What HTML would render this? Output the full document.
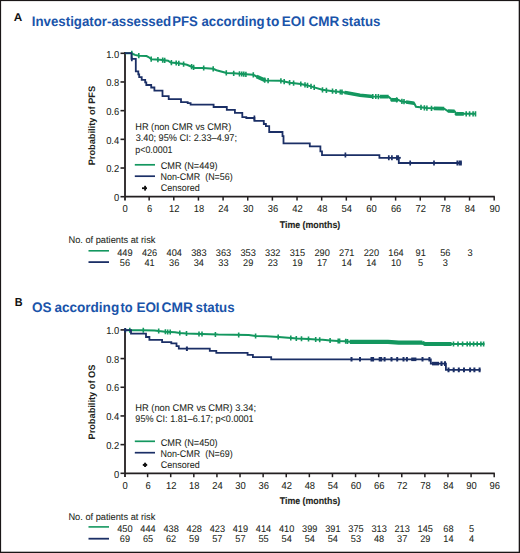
<!DOCTYPE html>
<html><head><meta charset="utf-8"><style>html,body{margin:0;padding:0;background:#fff;width:520px;height:553px;overflow:hidden}svg text{text-rendering:geometricPrecision}</style></head>
<body>
<svg width="520" height="553" viewBox="0 0 520 553" style="display:block;font-family:'Liberation Sans',sans-serif">
<rect x="0" y="0" width="520" height="553" fill="#fff"/>
<path d="M125.0,52.099999999999994 V200.5 M125.0,196.7 H494.8" fill="none" stroke="#231f20" stroke-width="1.8"/>
<path d="M120.5,196.70 H124.5" stroke="#231f20" stroke-width="1.6"/>
<text transform="translate(119.20,200.90) scale(0.9300,1)" font-size="10.1" font-weight="normal" text-anchor="end" fill="#231f20" stroke="#231f20" stroke-width="0.06" >0</text>
<path d="M120.5,168.02 H124.5" stroke="#231f20" stroke-width="1.6"/>
<text transform="translate(119.20,172.22) scale(0.9300,1)" font-size="10.1" font-weight="normal" text-anchor="end" fill="#231f20" stroke="#231f20" stroke-width="0.06" >0.2</text>
<path d="M120.5,139.34 H124.5" stroke="#231f20" stroke-width="1.6"/>
<text transform="translate(119.20,143.54) scale(0.9300,1)" font-size="10.1" font-weight="normal" text-anchor="end" fill="#231f20" stroke="#231f20" stroke-width="0.06" >0.4</text>
<path d="M120.5,110.66 H124.5" stroke="#231f20" stroke-width="1.6"/>
<text transform="translate(119.20,114.86) scale(0.9300,1)" font-size="10.1" font-weight="normal" text-anchor="end" fill="#231f20" stroke="#231f20" stroke-width="0.06" >0.6</text>
<path d="M120.5,81.98 H124.5" stroke="#231f20" stroke-width="1.6"/>
<text transform="translate(119.20,86.18) scale(0.9300,1)" font-size="10.1" font-weight="normal" text-anchor="end" fill="#231f20" stroke="#231f20" stroke-width="0.06" >0.8</text>
<path d="M120.5,53.30 H124.5" stroke="#231f20" stroke-width="1.6"/>
<text transform="translate(119.20,57.50) scale(0.9300,1)" font-size="10.1" font-weight="normal" text-anchor="end" fill="#231f20" stroke="#231f20" stroke-width="0.06" >1.0</text>
<text transform="translate(125.00,211.90) scale(0.9300,1)" font-size="10.1" font-weight="normal" text-anchor="middle" fill="#231f20" stroke="#231f20" stroke-width="0.06" >0</text>
<path d="M149.15,196.7 V200.6" stroke="#231f20" stroke-width="1.5"/>
<text transform="translate(149.65,211.90) scale(0.9300,1)" font-size="10.1" font-weight="normal" text-anchor="middle" fill="#231f20" stroke="#231f20" stroke-width="0.06" >6</text>
<path d="M173.79,196.7 V200.6" stroke="#231f20" stroke-width="1.5"/>
<text transform="translate(174.29,211.90) scale(0.9300,1)" font-size="10.1" font-weight="normal" text-anchor="middle" fill="#231f20" stroke="#231f20" stroke-width="0.06" >12</text>
<path d="M198.44,196.7 V200.6" stroke="#231f20" stroke-width="1.5"/>
<text transform="translate(198.94,211.90) scale(0.9300,1)" font-size="10.1" font-weight="normal" text-anchor="middle" fill="#231f20" stroke="#231f20" stroke-width="0.06" >18</text>
<path d="M223.09,196.7 V200.6" stroke="#231f20" stroke-width="1.5"/>
<text transform="translate(223.59,211.90) scale(0.9300,1)" font-size="10.1" font-weight="normal" text-anchor="middle" fill="#231f20" stroke="#231f20" stroke-width="0.06" >24</text>
<path d="M247.73,196.7 V200.6" stroke="#231f20" stroke-width="1.5"/>
<text transform="translate(248.23,211.90) scale(0.9300,1)" font-size="10.1" font-weight="normal" text-anchor="middle" fill="#231f20" stroke="#231f20" stroke-width="0.06" >30</text>
<path d="M272.38,196.7 V200.6" stroke="#231f20" stroke-width="1.5"/>
<text transform="translate(272.88,211.90) scale(0.9300,1)" font-size="10.1" font-weight="normal" text-anchor="middle" fill="#231f20" stroke="#231f20" stroke-width="0.06" >36</text>
<path d="M297.03,196.7 V200.6" stroke="#231f20" stroke-width="1.5"/>
<text transform="translate(297.53,211.90) scale(0.9300,1)" font-size="10.1" font-weight="normal" text-anchor="middle" fill="#231f20" stroke="#231f20" stroke-width="0.06" >42</text>
<path d="M321.67,196.7 V200.6" stroke="#231f20" stroke-width="1.5"/>
<text transform="translate(322.17,211.90) scale(0.9300,1)" font-size="10.1" font-weight="normal" text-anchor="middle" fill="#231f20" stroke="#231f20" stroke-width="0.06" >48</text>
<path d="M346.32,196.7 V200.6" stroke="#231f20" stroke-width="1.5"/>
<text transform="translate(346.82,211.90) scale(0.9300,1)" font-size="10.1" font-weight="normal" text-anchor="middle" fill="#231f20" stroke="#231f20" stroke-width="0.06" >54</text>
<path d="M370.97,196.7 V200.6" stroke="#231f20" stroke-width="1.5"/>
<text transform="translate(371.47,211.90) scale(0.9300,1)" font-size="10.1" font-weight="normal" text-anchor="middle" fill="#231f20" stroke="#231f20" stroke-width="0.06" >60</text>
<path d="M395.61,196.7 V200.6" stroke="#231f20" stroke-width="1.5"/>
<text transform="translate(396.11,211.90) scale(0.9300,1)" font-size="10.1" font-weight="normal" text-anchor="middle" fill="#231f20" stroke="#231f20" stroke-width="0.06" >66</text>
<path d="M420.26,196.7 V200.6" stroke="#231f20" stroke-width="1.5"/>
<text transform="translate(420.76,211.90) scale(0.9300,1)" font-size="10.1" font-weight="normal" text-anchor="middle" fill="#231f20" stroke="#231f20" stroke-width="0.06" >72</text>
<path d="M444.91,196.7 V200.6" stroke="#231f20" stroke-width="1.5"/>
<text transform="translate(445.41,211.90) scale(0.9300,1)" font-size="10.1" font-weight="normal" text-anchor="middle" fill="#231f20" stroke="#231f20" stroke-width="0.06" >78</text>
<path d="M469.55,196.7 V200.6" stroke="#231f20" stroke-width="1.5"/>
<text transform="translate(470.05,211.90) scale(0.9300,1)" font-size="10.1" font-weight="normal" text-anchor="middle" fill="#231f20" stroke="#231f20" stroke-width="0.06" >84</text>
<path d="M494.20,196.7 V200.6" stroke="#231f20" stroke-width="1.5"/>
<text transform="translate(494.70,211.90) scale(0.9300,1)" font-size="10.1" font-weight="normal" text-anchor="middle" fill="#231f20" stroke="#231f20" stroke-width="0.06" >90</text>
<text transform="translate(279.71,227.80) scale(0.9098,1)" font-size="9.7" font-weight="bold" text-anchor="start" fill="#231f20" stroke="#231f20" stroke-width="0.12" >Time (months)</text>
<text transform="translate(94.6,165.32) rotate(-90) scale(0.9844,1)" font-size="9.4" font-weight="bold" fill="#231f20">Probability of PFS</text>
<path d="M125.0,328.70000000000005 V477.1 M125.0,473.3 H494.8" fill="none" stroke="#231f20" stroke-width="1.8"/>
<path d="M120.5,473.30 H124.5" stroke="#231f20" stroke-width="1.6"/>
<text transform="translate(119.20,477.50) scale(0.9300,1)" font-size="10.1" font-weight="normal" text-anchor="end" fill="#231f20" stroke="#231f20" stroke-width="0.06" >0</text>
<path d="M120.5,444.62 H124.5" stroke="#231f20" stroke-width="1.6"/>
<text transform="translate(119.20,448.82) scale(0.9300,1)" font-size="10.1" font-weight="normal" text-anchor="end" fill="#231f20" stroke="#231f20" stroke-width="0.06" >0.2</text>
<path d="M120.5,415.94 H124.5" stroke="#231f20" stroke-width="1.6"/>
<text transform="translate(119.20,420.14) scale(0.9300,1)" font-size="10.1" font-weight="normal" text-anchor="end" fill="#231f20" stroke="#231f20" stroke-width="0.06" >0.4</text>
<path d="M120.5,387.26 H124.5" stroke="#231f20" stroke-width="1.6"/>
<text transform="translate(119.20,391.46) scale(0.9300,1)" font-size="10.1" font-weight="normal" text-anchor="end" fill="#231f20" stroke="#231f20" stroke-width="0.06" >0.6</text>
<path d="M120.5,358.58 H124.5" stroke="#231f20" stroke-width="1.6"/>
<text transform="translate(119.20,362.78) scale(0.9300,1)" font-size="10.1" font-weight="normal" text-anchor="end" fill="#231f20" stroke="#231f20" stroke-width="0.06" >0.8</text>
<path d="M120.5,329.90 H124.5" stroke="#231f20" stroke-width="1.6"/>
<text transform="translate(119.20,334.10) scale(0.9300,1)" font-size="10.1" font-weight="normal" text-anchor="end" fill="#231f20" stroke="#231f20" stroke-width="0.06" >1.0</text>
<text transform="translate(125.00,488.50) scale(0.9300,1)" font-size="10.1" font-weight="normal" text-anchor="middle" fill="#231f20" stroke="#231f20" stroke-width="0.06" >0</text>
<path d="M147.61,473.3 V477.2" stroke="#231f20" stroke-width="1.5"/>
<text transform="translate(148.11,488.50) scale(0.9300,1)" font-size="10.1" font-weight="normal" text-anchor="middle" fill="#231f20" stroke="#231f20" stroke-width="0.06" >6</text>
<path d="M170.71,473.3 V477.2" stroke="#231f20" stroke-width="1.5"/>
<text transform="translate(171.21,488.50) scale(0.9300,1)" font-size="10.1" font-weight="normal" text-anchor="middle" fill="#231f20" stroke="#231f20" stroke-width="0.06" >12</text>
<path d="M193.82,473.3 V477.2" stroke="#231f20" stroke-width="1.5"/>
<text transform="translate(194.32,488.50) scale(0.9300,1)" font-size="10.1" font-weight="normal" text-anchor="middle" fill="#231f20" stroke="#231f20" stroke-width="0.06" >18</text>
<path d="M216.93,473.3 V477.2" stroke="#231f20" stroke-width="1.5"/>
<text transform="translate(217.43,488.50) scale(0.9300,1)" font-size="10.1" font-weight="normal" text-anchor="middle" fill="#231f20" stroke="#231f20" stroke-width="0.06" >24</text>
<path d="M240.03,473.3 V477.2" stroke="#231f20" stroke-width="1.5"/>
<text transform="translate(240.53,488.50) scale(0.9300,1)" font-size="10.1" font-weight="normal" text-anchor="middle" fill="#231f20" stroke="#231f20" stroke-width="0.06" >30</text>
<path d="M263.14,473.3 V477.2" stroke="#231f20" stroke-width="1.5"/>
<text transform="translate(263.64,488.50) scale(0.9300,1)" font-size="10.1" font-weight="normal" text-anchor="middle" fill="#231f20" stroke="#231f20" stroke-width="0.06" >36</text>
<path d="M286.24,473.3 V477.2" stroke="#231f20" stroke-width="1.5"/>
<text transform="translate(286.74,488.50) scale(0.9300,1)" font-size="10.1" font-weight="normal" text-anchor="middle" fill="#231f20" stroke="#231f20" stroke-width="0.06" >42</text>
<path d="M309.35,473.3 V477.2" stroke="#231f20" stroke-width="1.5"/>
<text transform="translate(309.85,488.50) scale(0.9300,1)" font-size="10.1" font-weight="normal" text-anchor="middle" fill="#231f20" stroke="#231f20" stroke-width="0.06" >48</text>
<path d="M332.46,473.3 V477.2" stroke="#231f20" stroke-width="1.5"/>
<text transform="translate(332.96,488.50) scale(0.9300,1)" font-size="10.1" font-weight="normal" text-anchor="middle" fill="#231f20" stroke="#231f20" stroke-width="0.06" >54</text>
<path d="M355.56,473.3 V477.2" stroke="#231f20" stroke-width="1.5"/>
<text transform="translate(356.06,488.50) scale(0.9300,1)" font-size="10.1" font-weight="normal" text-anchor="middle" fill="#231f20" stroke="#231f20" stroke-width="0.06" >60</text>
<path d="M378.67,473.3 V477.2" stroke="#231f20" stroke-width="1.5"/>
<text transform="translate(379.17,488.50) scale(0.9300,1)" font-size="10.1" font-weight="normal" text-anchor="middle" fill="#231f20" stroke="#231f20" stroke-width="0.06" >66</text>
<path d="M401.77,473.3 V477.2" stroke="#231f20" stroke-width="1.5"/>
<text transform="translate(402.27,488.50) scale(0.9300,1)" font-size="10.1" font-weight="normal" text-anchor="middle" fill="#231f20" stroke="#231f20" stroke-width="0.06" >72</text>
<path d="M424.88,473.3 V477.2" stroke="#231f20" stroke-width="1.5"/>
<text transform="translate(425.38,488.50) scale(0.9300,1)" font-size="10.1" font-weight="normal" text-anchor="middle" fill="#231f20" stroke="#231f20" stroke-width="0.06" >78</text>
<path d="M447.99,473.3 V477.2" stroke="#231f20" stroke-width="1.5"/>
<text transform="translate(448.49,488.50) scale(0.9300,1)" font-size="10.1" font-weight="normal" text-anchor="middle" fill="#231f20" stroke="#231f20" stroke-width="0.06" >84</text>
<path d="M471.09,473.3 V477.2" stroke="#231f20" stroke-width="1.5"/>
<text transform="translate(471.59,488.50) scale(0.9300,1)" font-size="10.1" font-weight="normal" text-anchor="middle" fill="#231f20" stroke="#231f20" stroke-width="0.06" >90</text>
<path d="M494.20,473.3 V477.2" stroke="#231f20" stroke-width="1.5"/>
<text transform="translate(494.70,488.50) scale(0.9300,1)" font-size="10.1" font-weight="normal" text-anchor="middle" fill="#231f20" stroke="#231f20" stroke-width="0.06" >96</text>
<text transform="translate(279.71,504.40) scale(0.9098,1)" font-size="9.7" font-weight="bold" text-anchor="start" fill="#231f20" stroke="#231f20" stroke-width="0.12" >Time (months)</text>
<text transform="translate(94.6,439.52) rotate(-90) scale(0.9848,1)" font-size="9.4" font-weight="bold" fill="#231f20">Probability of OS</text>
<text transform="translate(31.80,25.8) scale(0.9613,1)" font-size="13.8" font-weight="bold" fill="#1a54aa">Investigator-assessed</text>
<text transform="translate(172.21,25.8) scale(0.9544,1)" font-size="13.8" font-weight="bold" fill="#1a54aa">PFS</text>
<text transform="translate(201.50,25.8) scale(0.9556,1)" font-size="13.8" font-weight="bold" fill="#1a54aa">according</text>
<text transform="translate(266.33,25.8) scale(0.9905,1)" font-size="13.8" font-weight="bold" fill="#1a54aa">to</text>
<text transform="translate(281.79,25.8) scale(0.9768,1)" font-size="13.8" font-weight="bold" fill="#1a54aa">EOI</text>
<text transform="translate(308.56,25.8) scale(0.9782,1)" font-size="13.8" font-weight="bold" fill="#1a54aa">CMR</text>
<text transform="translate(341.44,25.8) scale(0.9595,1)" font-size="13.8" font-weight="bold" fill="#1a54aa">status</text>
<text transform="translate(31.96,311.6) scale(0.9821,1)" font-size="13.8" font-weight="bold" fill="#1a54aa">OS</text>
<text transform="translate(54.39,311.6) scale(0.9827,1)" font-size="13.8" font-weight="bold" fill="#1a54aa">according</text>
<text transform="translate(120.44,311.6) scale(0.9337,1)" font-size="13.8" font-weight="bold" fill="#1a54aa">to</text>
<text transform="translate(136.39,311.6) scale(0.9768,1)" font-size="13.8" font-weight="bold" fill="#1a54aa">EOI</text>
<text transform="translate(161.55,311.6) scale(0.9978,1)" font-size="13.8" font-weight="bold" fill="#1a54aa">CMR</text>
<text transform="translate(195.54,311.6) scale(0.9595,1)" font-size="13.8" font-weight="bold" fill="#1a54aa">status</text>
<text transform="translate(13.81,21.00) scale(1.0528,1)" font-size="11.2" font-weight="bold" text-anchor="start" fill="#111" >A</text>
<text transform="translate(14.67,306.10) scale(0.9169,1)" font-size="11.8" font-weight="bold" text-anchor="start" fill="#111" >B</text>
<text transform="translate(135.24,130.20) scale(0.9486,1)" font-size="9.7" font-weight="normal" text-anchor="start" fill="#231f20" stroke="#231f20" stroke-width="0.06" >HR (non CMR vs CMR)</text>
<text transform="translate(135.66,141.30) scale(0.9456,1)" font-size="9.7" font-weight="normal" text-anchor="start" fill="#231f20" stroke="#231f20" stroke-width="0.06" >3.40; 95% CI: 2.33–4.97;</text>
<text transform="translate(135.32,152.50) scale(0.9136,1)" font-size="9.7" font-weight="normal" text-anchor="start" fill="#231f20" stroke="#231f20" stroke-width="0.06" >p&lt;0.0001</text>
<path d="M134.8,164.8 H155" stroke="#13975f" stroke-width="1.7"/>
<text transform="translate(160.74,169.20) scale(0.9471,1)" font-size="9.7" font-weight="normal" text-anchor="start" fill="#231f20" stroke="#231f20" stroke-width="0.06" >CMR (N=449)</text>
<path d="M134.8,176.2 H155" stroke="#1b2f66" stroke-width="1.7"/>
<text transform="translate(160.46,180.30) scale(0.9229,1)" font-size="9.7" font-weight="normal" text-anchor="start" fill="#231f20" stroke="#231f20" stroke-width="0.06" xml:space="preserve">Non-CMR  (N=56)</text>
<path d="M142,188.2 H147" stroke="#111" stroke-width="1.8"/><path d="M145.1,185.8 V190.6" stroke="#111" stroke-width="1.9"/>
<text transform="translate(160.75,191.40) scale(0.9253,1)" font-size="9.7" font-weight="normal" text-anchor="start" fill="#231f20" stroke="#231f20" stroke-width="0.06" >Censored</text>
<text transform="translate(68.44,243.10) scale(0.9556,1)" font-size="9.7" font-weight="normal" text-anchor="start" fill="#231f20" stroke="#231f20" stroke-width="0.06" >No. of patients at risk</text>
<path d="M88.5,250.8 H109" stroke="#13975f" stroke-width="1.6"/>
<path d="M88.5,262.1 H109" stroke="#1b2f66" stroke-width="1.8"/>
<text transform="translate(124.90,255.50) scale(0.9500,1)" font-size="9.7" font-weight="normal" text-anchor="middle" fill="#231f20" stroke="#231f20" stroke-width="0.06" >449</text>
<text transform="translate(149.55,255.50) scale(0.9500,1)" font-size="9.7" font-weight="normal" text-anchor="middle" fill="#231f20" stroke="#231f20" stroke-width="0.06" >426</text>
<text transform="translate(174.19,255.50) scale(0.9500,1)" font-size="9.7" font-weight="normal" text-anchor="middle" fill="#231f20" stroke="#231f20" stroke-width="0.06" >404</text>
<text transform="translate(198.84,255.50) scale(0.9500,1)" font-size="9.7" font-weight="normal" text-anchor="middle" fill="#231f20" stroke="#231f20" stroke-width="0.06" >383</text>
<text transform="translate(223.49,255.50) scale(0.9500,1)" font-size="9.7" font-weight="normal" text-anchor="middle" fill="#231f20" stroke="#231f20" stroke-width="0.06" >363</text>
<text transform="translate(248.13,255.50) scale(0.9500,1)" font-size="9.7" font-weight="normal" text-anchor="middle" fill="#231f20" stroke="#231f20" stroke-width="0.06" >353</text>
<text transform="translate(272.78,255.50) scale(0.9500,1)" font-size="9.7" font-weight="normal" text-anchor="middle" fill="#231f20" stroke="#231f20" stroke-width="0.06" >332</text>
<text transform="translate(297.43,255.50) scale(0.9500,1)" font-size="9.7" font-weight="normal" text-anchor="middle" fill="#231f20" stroke="#231f20" stroke-width="0.06" >315</text>
<text transform="translate(322.07,255.50) scale(0.9500,1)" font-size="9.7" font-weight="normal" text-anchor="middle" fill="#231f20" stroke="#231f20" stroke-width="0.06" >290</text>
<text transform="translate(346.72,255.50) scale(0.9500,1)" font-size="9.7" font-weight="normal" text-anchor="middle" fill="#231f20" stroke="#231f20" stroke-width="0.06" >271</text>
<text transform="translate(371.37,255.50) scale(0.9500,1)" font-size="9.7" font-weight="normal" text-anchor="middle" fill="#231f20" stroke="#231f20" stroke-width="0.06" >220</text>
<text transform="translate(396.01,255.50) scale(0.9500,1)" font-size="9.7" font-weight="normal" text-anchor="middle" fill="#231f20" stroke="#231f20" stroke-width="0.06" >164</text>
<text transform="translate(420.66,255.50) scale(0.9500,1)" font-size="9.7" font-weight="normal" text-anchor="middle" fill="#231f20" stroke="#231f20" stroke-width="0.06" >91</text>
<text transform="translate(445.31,255.50) scale(0.9500,1)" font-size="9.7" font-weight="normal" text-anchor="middle" fill="#231f20" stroke="#231f20" stroke-width="0.06" >56</text>
<text transform="translate(469.95,255.50) scale(0.9500,1)" font-size="9.7" font-weight="normal" text-anchor="middle" fill="#231f20" stroke="#231f20" stroke-width="0.06" >3</text>
<text transform="translate(124.90,265.60) scale(0.9500,1)" font-size="9.7" font-weight="normal" text-anchor="middle" fill="#231f20" stroke="#231f20" stroke-width="0.06" >56</text>
<text transform="translate(149.55,265.60) scale(0.9500,1)" font-size="9.7" font-weight="normal" text-anchor="middle" fill="#231f20" stroke="#231f20" stroke-width="0.06" >41</text>
<text transform="translate(174.19,265.60) scale(0.9500,1)" font-size="9.7" font-weight="normal" text-anchor="middle" fill="#231f20" stroke="#231f20" stroke-width="0.06" >36</text>
<text transform="translate(198.84,265.60) scale(0.9500,1)" font-size="9.7" font-weight="normal" text-anchor="middle" fill="#231f20" stroke="#231f20" stroke-width="0.06" >34</text>
<text transform="translate(223.49,265.60) scale(0.9500,1)" font-size="9.7" font-weight="normal" text-anchor="middle" fill="#231f20" stroke="#231f20" stroke-width="0.06" >33</text>
<text transform="translate(248.13,265.60) scale(0.9500,1)" font-size="9.7" font-weight="normal" text-anchor="middle" fill="#231f20" stroke="#231f20" stroke-width="0.06" >29</text>
<text transform="translate(272.78,265.60) scale(0.9500,1)" font-size="9.7" font-weight="normal" text-anchor="middle" fill="#231f20" stroke="#231f20" stroke-width="0.06" >23</text>
<text transform="translate(297.43,265.60) scale(0.9500,1)" font-size="9.7" font-weight="normal" text-anchor="middle" fill="#231f20" stroke="#231f20" stroke-width="0.06" >19</text>
<text transform="translate(322.07,265.60) scale(0.9500,1)" font-size="9.7" font-weight="normal" text-anchor="middle" fill="#231f20" stroke="#231f20" stroke-width="0.06" >17</text>
<text transform="translate(346.72,265.60) scale(0.9500,1)" font-size="9.7" font-weight="normal" text-anchor="middle" fill="#231f20" stroke="#231f20" stroke-width="0.06" >14</text>
<text transform="translate(371.37,265.60) scale(0.9500,1)" font-size="9.7" font-weight="normal" text-anchor="middle" fill="#231f20" stroke="#231f20" stroke-width="0.06" >14</text>
<text transform="translate(396.01,265.60) scale(0.9500,1)" font-size="9.7" font-weight="normal" text-anchor="middle" fill="#231f20" stroke="#231f20" stroke-width="0.06" >10</text>
<text transform="translate(420.66,265.60) scale(0.9500,1)" font-size="9.7" font-weight="normal" text-anchor="middle" fill="#231f20" stroke="#231f20" stroke-width="0.06" >5</text>
<text transform="translate(445.31,265.60) scale(0.9500,1)" font-size="9.7" font-weight="normal" text-anchor="middle" fill="#231f20" stroke="#231f20" stroke-width="0.06" >3</text>
<text transform="translate(135.23,411.20) scale(0.9627,1)" font-size="9.7" font-weight="normal" text-anchor="start" fill="#231f20" stroke="#231f20" stroke-width="0.06" >HR (non CMR vs CMR) 3.34;</text>
<text transform="translate(135.37,422.00) scale(0.9359,1)" font-size="9.7" font-weight="normal" text-anchor="start" fill="#231f20" stroke="#231f20" stroke-width="0.06" >95% CI: 1.81–6.17; p&lt;0.0001</text>
<path d="M134.8,441.3 H155" stroke="#13975f" stroke-width="1.7"/>
<text transform="translate(160.74,445.60) scale(0.9471,1)" font-size="9.7" font-weight="normal" text-anchor="start" fill="#231f20" stroke="#231f20" stroke-width="0.06" >CMR (N=450)</text>
<path d="M134.8,452.7 H155" stroke="#1b2f66" stroke-width="1.7"/>
<text transform="translate(160.46,456.70) scale(0.9229,1)" font-size="9.7" font-weight="normal" text-anchor="start" fill="#231f20" stroke="#231f20" stroke-width="0.06" xml:space="preserve">Non-CMR  (N=69)</text>
<path d="M142.8,464.9 H147.2" stroke="#111" stroke-width="2.0"/><path d="M145.1,462.7 V467.0" stroke="#111" stroke-width="2.0"/>
<text transform="translate(160.75,467.70) scale(0.9253,1)" font-size="9.7" font-weight="normal" text-anchor="start" fill="#231f20" stroke="#231f20" stroke-width="0.06" >Censored</text>
<text transform="translate(68.44,519.60) scale(0.9545,1)" font-size="9.7" font-weight="normal" text-anchor="start" fill="#231f20" stroke="#231f20" stroke-width="0.06" >No. of patients at risk</text>
<path d="M88.5,526.9 H109" stroke="#13975f" stroke-width="1.6"/>
<path d="M88.5,538.7 H109" stroke="#1b2f66" stroke-width="1.8"/>
<text transform="translate(124.90,531.80) scale(0.9500,1)" font-size="9.7" font-weight="normal" text-anchor="middle" fill="#231f20" stroke="#231f20" stroke-width="0.06" >450</text>
<text transform="translate(148.01,531.80) scale(0.9500,1)" font-size="9.7" font-weight="normal" text-anchor="middle" fill="#231f20" stroke="#231f20" stroke-width="0.06" >444</text>
<text transform="translate(171.11,531.80) scale(0.9500,1)" font-size="9.7" font-weight="normal" text-anchor="middle" fill="#231f20" stroke="#231f20" stroke-width="0.06" >438</text>
<text transform="translate(194.22,531.80) scale(0.9500,1)" font-size="9.7" font-weight="normal" text-anchor="middle" fill="#231f20" stroke="#231f20" stroke-width="0.06" >428</text>
<text transform="translate(217.33,531.80) scale(0.9500,1)" font-size="9.7" font-weight="normal" text-anchor="middle" fill="#231f20" stroke="#231f20" stroke-width="0.06" >423</text>
<text transform="translate(240.43,531.80) scale(0.9500,1)" font-size="9.7" font-weight="normal" text-anchor="middle" fill="#231f20" stroke="#231f20" stroke-width="0.06" >419</text>
<text transform="translate(263.54,531.80) scale(0.9500,1)" font-size="9.7" font-weight="normal" text-anchor="middle" fill="#231f20" stroke="#231f20" stroke-width="0.06" >414</text>
<text transform="translate(286.64,531.80) scale(0.9500,1)" font-size="9.7" font-weight="normal" text-anchor="middle" fill="#231f20" stroke="#231f20" stroke-width="0.06" >410</text>
<text transform="translate(309.75,531.80) scale(0.9500,1)" font-size="9.7" font-weight="normal" text-anchor="middle" fill="#231f20" stroke="#231f20" stroke-width="0.06" >399</text>
<text transform="translate(332.86,531.80) scale(0.9500,1)" font-size="9.7" font-weight="normal" text-anchor="middle" fill="#231f20" stroke="#231f20" stroke-width="0.06" >391</text>
<text transform="translate(355.96,531.80) scale(0.9500,1)" font-size="9.7" font-weight="normal" text-anchor="middle" fill="#231f20" stroke="#231f20" stroke-width="0.06" >375</text>
<text transform="translate(379.07,531.80) scale(0.9500,1)" font-size="9.7" font-weight="normal" text-anchor="middle" fill="#231f20" stroke="#231f20" stroke-width="0.06" >313</text>
<text transform="translate(402.17,531.80) scale(0.9500,1)" font-size="9.7" font-weight="normal" text-anchor="middle" fill="#231f20" stroke="#231f20" stroke-width="0.06" >213</text>
<text transform="translate(425.28,531.80) scale(0.9500,1)" font-size="9.7" font-weight="normal" text-anchor="middle" fill="#231f20" stroke="#231f20" stroke-width="0.06" >145</text>
<text transform="translate(448.39,531.80) scale(0.9500,1)" font-size="9.7" font-weight="normal" text-anchor="middle" fill="#231f20" stroke="#231f20" stroke-width="0.06" >68</text>
<text transform="translate(471.49,531.80) scale(0.9500,1)" font-size="9.7" font-weight="normal" text-anchor="middle" fill="#231f20" stroke="#231f20" stroke-width="0.06" >5</text>
<text transform="translate(124.90,541.60) scale(0.9500,1)" font-size="9.7" font-weight="normal" text-anchor="middle" fill="#231f20" stroke="#231f20" stroke-width="0.06" >69</text>
<text transform="translate(148.01,541.60) scale(0.9500,1)" font-size="9.7" font-weight="normal" text-anchor="middle" fill="#231f20" stroke="#231f20" stroke-width="0.06" >65</text>
<text transform="translate(171.11,541.60) scale(0.9500,1)" font-size="9.7" font-weight="normal" text-anchor="middle" fill="#231f20" stroke="#231f20" stroke-width="0.06" >62</text>
<text transform="translate(194.22,541.60) scale(0.9500,1)" font-size="9.7" font-weight="normal" text-anchor="middle" fill="#231f20" stroke="#231f20" stroke-width="0.06" >59</text>
<text transform="translate(217.33,541.60) scale(0.9500,1)" font-size="9.7" font-weight="normal" text-anchor="middle" fill="#231f20" stroke="#231f20" stroke-width="0.06" >57</text>
<text transform="translate(240.43,541.60) scale(0.9500,1)" font-size="9.7" font-weight="normal" text-anchor="middle" fill="#231f20" stroke="#231f20" stroke-width="0.06" >57</text>
<text transform="translate(263.54,541.60) scale(0.9500,1)" font-size="9.7" font-weight="normal" text-anchor="middle" fill="#231f20" stroke="#231f20" stroke-width="0.06" >55</text>
<text transform="translate(286.64,541.60) scale(0.9500,1)" font-size="9.7" font-weight="normal" text-anchor="middle" fill="#231f20" stroke="#231f20" stroke-width="0.06" >54</text>
<text transform="translate(309.75,541.60) scale(0.9500,1)" font-size="9.7" font-weight="normal" text-anchor="middle" fill="#231f20" stroke="#231f20" stroke-width="0.06" >54</text>
<text transform="translate(332.86,541.60) scale(0.9500,1)" font-size="9.7" font-weight="normal" text-anchor="middle" fill="#231f20" stroke="#231f20" stroke-width="0.06" >54</text>
<text transform="translate(355.96,541.60) scale(0.9500,1)" font-size="9.7" font-weight="normal" text-anchor="middle" fill="#231f20" stroke="#231f20" stroke-width="0.06" >53</text>
<text transform="translate(379.07,541.60) scale(0.9500,1)" font-size="9.7" font-weight="normal" text-anchor="middle" fill="#231f20" stroke="#231f20" stroke-width="0.06" >48</text>
<text transform="translate(402.17,541.60) scale(0.9500,1)" font-size="9.7" font-weight="normal" text-anchor="middle" fill="#231f20" stroke="#231f20" stroke-width="0.06" >37</text>
<text transform="translate(425.28,541.60) scale(0.9500,1)" font-size="9.7" font-weight="normal" text-anchor="middle" fill="#231f20" stroke="#231f20" stroke-width="0.06" >29</text>
<text transform="translate(448.39,541.60) scale(0.9500,1)" font-size="9.7" font-weight="normal" text-anchor="middle" fill="#231f20" stroke="#231f20" stroke-width="0.06" >14</text>
<text transform="translate(471.49,541.60) scale(0.9500,1)" font-size="9.7" font-weight="normal" text-anchor="middle" fill="#231f20" stroke="#231f20" stroke-width="0.06" >4</text>
<path d="M125.0,53.2 131.5,53.2 133.0,54.0 135.0,54.9 138.8,55.7 146.5,56.1 148.5,57.0 151.5,59.3 160.0,59.8 168.1,60.7 170.8,62.5 176.2,63.0 183.6,64.1 186.9,64.8 191.0,66.5 195.0,67.9 203.0,67.9 213.2,68.8 216.5,70.2 226.6,72.9 233.7,73.3 245.9,74.3 253.3,74.8 256.6,76.5 265.4,80.5 280.9,80.8 284.2,81.6 290.0,82.7 300.8,84.0 307.5,85.4 314.2,87.4 322.3,89.8 333.0,91.2 341.1,92.1 346.5,92.8 360.0,95.2 372.5,96.5 388.6,96.7 392.0,99.8 398.0,99.8 401.0,101.2 406.0,102.0 414.2,103.2 416.0,106.8 426.9,108.1 444.2,108.7 447.7,111.0 454.6,111.3 456.5,113.8 476.0,113.8" fill="none" stroke="#13975f" stroke-width="2.0" stroke-linejoin="miter" stroke-linecap="butt"/>
<path d="M256.6,76.5 265.4,80.5" fill="none" stroke="#13975f" stroke-width="3.6" stroke-linejoin="miter" stroke-linecap="butt"/>
<path d="M344.5,92.5 346.5,92.8 360.0,95.2 372.5,96.5" fill="none" stroke="#13975f" stroke-width="3.6" stroke-linejoin="miter" stroke-linecap="butt"/>
<path d="M380.0,96.6 388.6,96.7" fill="none" stroke="#13975f" stroke-width="3.8" stroke-linejoin="miter" stroke-linecap="butt"/>
<path d="M391.3,99.2 392.0,99.8 398.0,99.8" fill="none" stroke="#13975f" stroke-width="3.8" stroke-linejoin="miter" stroke-linecap="butt"/>
<path d="M406.0,102.0 414.2,103.2" fill="none" stroke="#13975f" stroke-width="3.6" stroke-linejoin="miter" stroke-linecap="butt"/>
<path d="M433.8,108.3 444.2,108.7" fill="none" stroke="#13975f" stroke-width="3.8" stroke-linejoin="miter" stroke-linecap="butt"/>
<path d="M447.7,111.0 454.6,111.3" fill="none" stroke="#13975f" stroke-width="3.6" stroke-linejoin="miter" stroke-linecap="butt"/>
<path d="M455.8,112.9 456.5,113.8 463.8,113.8" fill="none" stroke="#13975f" stroke-width="3.8" stroke-linejoin="miter" stroke-linecap="butt"/>
<path d="M131.8,50.8V56.0M138.8,53.1V58.3M151.2,56.5V61.7M157.9,57.1V62.3M162.7,57.5V62.7M164.7,57.7V62.9M171.4,60.0V65.2M176.2,60.4V65.6M178.8,60.8V66.0M183.6,61.5V66.7M191.6,64.1V69.3M193.6,64.8V70.0M203.7,65.4V70.6M213.2,66.2V71.4M226.3,70.2V75.4M233.7,70.7V75.9M239.5,71.2V76.4M241.8,71.4V76.6M243.8,71.5V76.7M245.9,71.7V76.9M253.3,72.2V77.4M264.7,77.6V82.8M268.1,78.0V83.2M280.9,78.2V83.4M284.2,79.0V84.2M289.6,80.0V85.2M293.6,80.5V85.7M300.8,81.4V86.6M305.0,82.3V87.5M307.5,82.8V88.0M311.0,83.8V89.0M314.2,84.8V90.0M322.5,87.2V92.4M326.4,87.7V92.9M332.5,88.5V93.7M336.0,88.9V94.1M340.3,89.4V94.6M342.0,89.6V94.8M372.8,93.9V99.1M375.8,93.9V99.1M378.4,94.0V99.2M396.7,97.2V102.4M401.9,98.7V103.9M404.0,99.1V104.3M421.0,104.8V110.0M424.4,105.2V110.4M426.9,105.5V110.7M431.5,105.7V110.9M466.2,111.2V116.4M469.6,111.2V116.4M473.1,111.2V116.4M475.5,111.2V116.4" stroke="#13975f" stroke-width="1.6" fill="none"/>
<path d="M125.0,53.2 131.5,53.2 131.5,58.8 135.8,58.8 135.8,71.4 138.3,71.4 138.3,74.3 139.2,74.3 139.2,77.2 141.7,77.2 141.7,79.8 145.2,79.8 145.2,82.3 146.3,82.3 146.3,85.0 151.2,85.0 151.2,87.5 154.4,87.5 154.4,90.6 162.5,90.6 162.5,96.2 168.7,96.2 168.7,99.2 181.0,99.2 181.0,102.1 187.7,102.1 187.7,103.2 190.6,103.2 190.6,104.7 213.6,104.7 213.6,107.0 226.8,107.0 226.8,109.8 234.9,109.8 234.9,112.8 242.3,112.8 242.3,117.2 246.3,117.2 246.3,118.0 254.4,118.0 254.4,120.9 263.8,120.9 263.8,124.0 265.9,124.0 265.9,126.2 269.2,126.2 269.2,132.0 282.5,132.0 282.5,136.2 283.5,136.2 283.5,143.3 309.8,143.3 309.8,146.3 320.4,146.3 320.4,151.4 322.0,151.4 322.0,155.1 379.4,155.1 379.4,157.8 398.8,157.8 398.8,163.0 461.5,163.0 461.5,163.0" fill="none" stroke="#1b2f66" stroke-width="1.8" stroke-linejoin="miter" stroke-linecap="butt"/>
<path d="M396.0,157.8 400.8,157.8" fill="none" stroke="#1b2f66" stroke-width="1.8" stroke-linejoin="miter" stroke-linecap="butt"/>
<path d="M131.8,56.3V61.3M254.4,115.5V120.5M345.4,152.6V157.6M388.8,155.3V160.3M391.9,155.3V160.3M396.9,155.3V160.3M398.2,155.3V160.3M410.2,160.5V165.5M434.0,160.5V165.5M457.3,160.5V165.5M459.4,160.5V165.5M461.0,160.5V165.5" stroke="#1b2f66" stroke-width="1.7" fill="none"/>
<path d="M125.0,330.2 130.8,330.2 143.0,330.2 154.6,330.4 158.7,331.1 165.0,331.8 175.0,332.2 179.8,333.1 186.5,333.6 202.0,334.0 218.3,334.6 248.8,335.0 255.6,335.9 266.2,336.3 278.7,337.1 291.2,337.9 296.9,338.6 308.5,338.9 316.2,339.5 322.7,339.8 330.4,340.4 338.0,341.0 345.8,341.3 349.6,341.8 388.0,341.8 398.7,342.6 422.4,342.6 425.0,344.0 484.5,344.0" fill="none" stroke="#13975f" stroke-width="2.0" stroke-linejoin="miter" stroke-linecap="butt"/>
<path d="M349.8,341.8 388.0,341.8 398.7,342.6 422.4,342.6" fill="none" stroke="#13975f" stroke-width="4.2" stroke-linejoin="miter" stroke-linecap="butt"/>
<path d="M422.4,342.6 425.0,344.0 451.6,344.0" fill="none" stroke="#13975f" stroke-width="3.8" stroke-linejoin="miter" stroke-linecap="butt"/>
<path d="M129.8,327.7V332.7M143.3,327.7V332.7M158.7,328.6V333.6M165.4,329.3V334.3M167.7,329.4V334.4M170.2,329.5V334.5M179.8,330.6V335.6M186.5,331.1V336.1M199.0,331.4V336.4M202.0,331.5V336.5M215.4,332.0V337.0M238.7,332.4V337.4M255.6,333.4V338.4M278.2,334.6V339.6M290.8,335.4V340.4M296.3,336.0V341.0M301.5,336.2V341.2M308.5,336.4V341.4M315.7,337.0V342.0M319.7,337.2V342.2M330.1,337.9V342.9M338.2,338.5V343.5M339.6,338.6V343.6M345.7,338.8V343.8M347.5,339.0V344.0M453.5,341.5V346.5M458.0,341.5V346.5M462.6,341.5V346.5M467.2,341.5V346.5M470.0,341.5V346.5M473.6,341.5V346.5M477.2,341.5V346.5M480.9,341.5V346.5M483.6,341.5V346.5" stroke="#13975f" stroke-width="1.6" fill="none"/>
<path d="M125.0,330.2 131.0,330.2 131.0,333.6 146.0,333.6 146.0,337.0 149.4,337.0 149.4,339.9 162.1,339.9 162.1,342.2 171.3,342.2 171.3,343.3 176.5,343.3 176.5,346.2 178.8,346.2 178.8,348.7 209.8,348.7 209.8,350.8 216.3,350.8 216.3,352.8 247.6,352.8 247.6,354.8 252.9,354.8 252.9,357.2 271.2,357.2 271.2,359.3 430.8,359.3 430.8,363.6 445.9,363.6 445.9,369.9 480.5,369.9 480.5,369.9" fill="none" stroke="#1b2f66" stroke-width="1.8" stroke-linejoin="miter" stroke-linecap="butt"/>
<path d="M411.2,359.3 416.4,359.3" fill="none" stroke="#1b2f66" stroke-width="3.6" stroke-linejoin="miter" stroke-linecap="butt"/>
<path d="M432.0,363.6 439.0,363.6" fill="none" stroke="#1b2f66" stroke-width="3.6" stroke-linejoin="miter" stroke-linecap="butt"/>
<path d="M125.2,327.9V332.5M186.9,346.4V351.0M351.5,357.0V361.6M360.0,357.0V361.6M371.5,357.0V361.6M373.1,357.0V361.6M379.7,357.0V361.6M381.2,357.0V361.6M384.6,357.0V361.6M391.5,357.0V361.6M397.2,357.0V361.6M403.5,357.0V361.6M406.9,357.0V361.6M422.5,357.0V361.6M429.4,357.0V361.6M441.5,361.3V365.9M445.0,361.3V365.9M448.5,367.6V372.2M453.7,367.6V372.2M458.8,367.6V372.2M464.0,367.6V372.2M470.1,367.6V372.2M474.4,367.6V372.2M479.6,367.6V372.2" stroke="#1b2f66" stroke-width="2.0" fill="none"/>
<rect x="0" y="0" width="520" height="1.1" fill="#1a1617"/>
<rect x="0" y="0" width="1.1" height="553" fill="#1a1617"/>
<rect x="518.7" y="0" width="1.3" height="553" fill="#1a1617"/>
<rect x="0" y="551.7" width="520" height="1.3" fill="#1a1617"/>
</svg>
</body></html>
